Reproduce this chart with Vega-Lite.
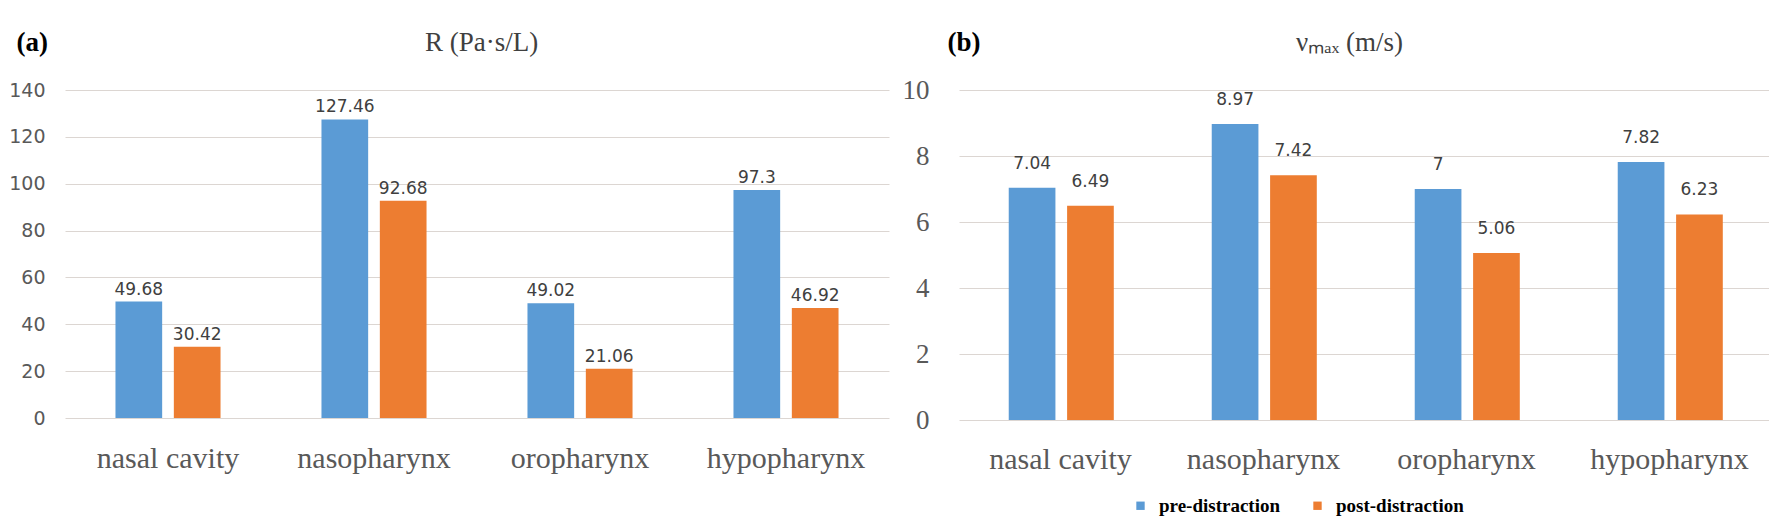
{
  "$schema": "https://vega.github.io/schema/vega-lite/v6.json",
  "padding": {"left": 8, "top": 28, "right": 0, "bottom": 0},
  "bounds": "flush",
  "spacing": 70,
  "background": "white",
  "config": {"view": {"stroke": null}, "font": "Liberation Serif"},
  "datasets": {
    "a": [
      {"region": "nasal cavity", "phase": "pre-distraction", "value": 49.68},
      {"region": "nasal cavity", "phase": "post-distraction", "value": 30.42},
      {"region": "nasopharynx", "phase": "pre-distraction", "value": 127.46},
      {"region": "nasopharynx", "phase": "post-distraction", "value": 92.68},
      {"region": "oropharynx", "phase": "pre-distraction", "value": 49.02},
      {"region": "oropharynx", "phase": "post-distraction", "value": 21.06},
      {"region": "hypopharynx", "phase": "pre-distraction", "value": 97.3},
      {"region": "hypopharynx", "phase": "post-distraction", "value": 46.92}
    ],
    "b": [
      {"region": "nasal cavity", "phase": "pre-distraction", "value": 7.04},
      {"region": "nasal cavity", "phase": "post-distraction", "value": 6.49},
      {"region": "nasopharynx", "phase": "pre-distraction", "value": 8.97},
      {"region": "nasopharynx", "phase": "post-distraction", "value": 7.42},
      {"region": "oropharynx", "phase": "pre-distraction", "value": 7},
      {"region": "oropharynx", "phase": "post-distraction", "value": 5.06},
      {"region": "hypopharynx", "phase": "pre-distraction", "value": 7.82},
      {"region": "hypopharynx", "phase": "post-distraction", "value": 6.23}
    ]
  },
  "resolve": {"scale": {"color": "independent"}, "legend": {"color": "independent"}},
  "hconcat": [
    {
      "width": 824,
      "height": 328,
      "data": {"name": "a"},
      "encoding": {
        "x": {"field": "region", "type": "nominal", "sort": null,
          "scale": {"paddingInner": 0.49, "paddingOuter": 0.245},
          "axis": {"labelAngle": 0, "ticks": false, "domain": false, "labelFont": "Liberation Serif", "labelFontSize": 30, "labelColor": "#595959", "labelPadding": 25,
            "title": "R (Pa·s/L)", "titleX": 416, "titleY": -368, "titleAlign": "center", "titleBaseline": "alphabetic", "titleAnchor": null,
            "titleFont": "Liberation Serif", "titleFontSize": 27, "titleFontWeight": "normal", "titleColor": "#404040"}},
        "xOffset": {"field": "phase", "type": "nominal", "sort": ["pre-distraction", "post-distraction"], "scale": {"paddingInner": 0.2, "paddingOuter": 0}},
        "y": {"field": "value", "type": "quantitative", "scale": {"domain": [0, 140]},
          "axis": {"values": [0, 20, 40, 60, 80, 100, 120, 140], "grid": true, "gridColor": "#dcd6d2", "ticks": false, "domain": false,
            "labelFont": "DejaVu Sans", "labelFontSize": 19, "labelColor": "#595959", "labelPadding": 20,
            "title": "(a)", "titleAngle": 0, "titleX": -49, "titleY": -40, "titleAlign": "left", "titleBaseline": "alphabetic",
            "titleFont": "Liberation Serif", "titleFontSize": 27, "titleFontWeight": "bold", "titleColor": "#000000"}}
      },
      "layer": [
        {"mark": {"type": "bar"},
          "encoding": {"color": {"field": "phase", "type": "nominal", "sort": ["pre-distraction", "post-distraction"],
            "scale": {"domain": ["pre-distraction", "post-distraction"], "range": ["#5b9bd5", "#ed7d31"]}, "legend": null}}},
        {"mark": {"type": "text", "dy": -3, "baseline": "bottom", "font": "DejaVu Sans", "fontSize": 17, "color": "#404040"},
          "encoding": {"text": {"field": "value", "type": "nominal"}}}
      ]
    },
    {
      "width": 812,
      "height": 330,
      "data": {"name": "b"},
      "encoding": {
        "x": {"field": "region", "type": "nominal", "sort": null,
          "scale": {"paddingInner": 0.49, "paddingOuter": 0.245},
          "axis": {"labelAngle": 0, "ticks": false, "domain": false, "labelFont": "Liberation Serif", "labelFontSize": 30, "labelColor": "#595959", "labelPadding": 24,
            "title": "νₘₐₓ (m/s)", "titleX": 390, "titleY": -370, "titleAlign": "center", "titleBaseline": "alphabetic", "titleAnchor": null,
            "titleFont": "Liberation Serif", "titleFontSize": 27, "titleFontWeight": "normal", "titleColor": "#404040"}},
        "xOffset": {"field": "phase", "type": "nominal", "sort": ["pre-distraction", "post-distraction"], "scale": {"paddingInner": 0.2, "paddingOuter": 0}},
        "y": {"field": "value", "type": "quantitative", "scale": {"domain": [0, 10]},
          "axis": {"values": [0, 2, 4, 6, 8, 10], "grid": true, "gridColor": "#dcd6d2", "ticks": false, "domain": false,
            "labelFont": "Liberation Serif", "labelFontSize": 27, "labelColor": "#595959", "labelPadding": 30,
            "title": "(b)", "titleAngle": 0, "titleX": -12, "titleY": -40, "titleAlign": "left", "titleBaseline": "alphabetic",
            "titleFont": "Liberation Serif", "titleFontSize": 27, "titleFontWeight": "bold", "titleColor": "#000000"}}
      },
      "layer": [
        {"mark": {"type": "bar"},
          "encoding": {"color": {"field": "phase", "type": "nominal", "sort": ["pre-distraction", "post-distraction"],
            "scale": {"domain": ["pre-distraction", "post-distraction"], "range": ["#5b9bd5", "#ed7d31"]},
            "legend": {"orient": "none", "legendX": 172, "legendY": 406, "direction": "horizontal", "title": null,
              "labelFont": "Liberation Serif", "labelFontSize": 19, "labelFontWeight": "bold", "labelColor": "#000000", "labelOffset": 9,
              "symbolType": "square", "symbolSize": 70, "columnPadding": 27, "symbolStrokeWidth": 0}}}},
        {"mark": {"type": "text", "dy": -15, "baseline": "bottom", "font": "DejaVu Sans", "fontSize": 17, "color": "#404040"},
          "encoding": {"text": {"field": "value", "type": "nominal"}}}
      ]
    }
  ]
}
